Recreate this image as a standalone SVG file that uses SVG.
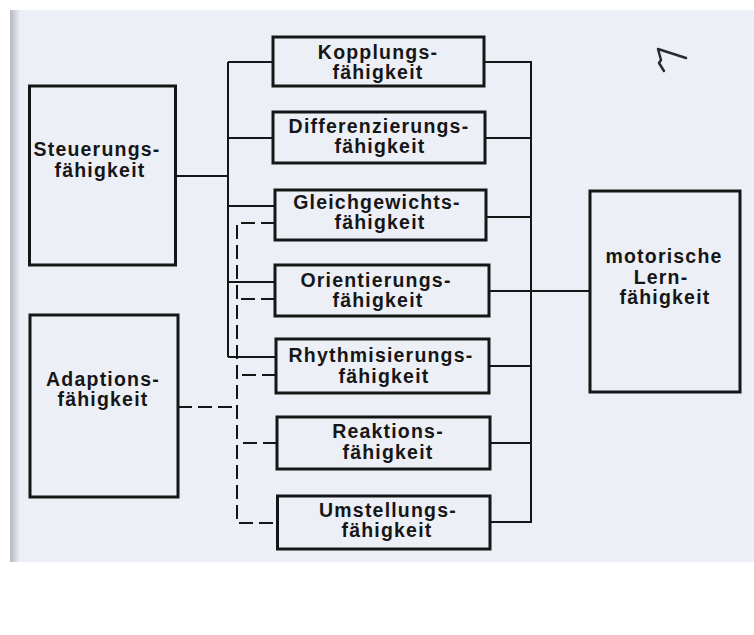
<svg xmlns="http://www.w3.org/2000/svg" width="754" height="635" viewBox="0 0 754 635">
  <defs>
    <linearGradient id="edge" x1="0" y1="0" x2="1" y2="0">
      <stop offset="0" stop-color="#b4b8c4"/>
      <stop offset="1" stop-color="#edeff6"/>
    </linearGradient>
    <style>
      .box { fill: none; stroke: #161616; stroke-width: 3; }
      .ln { fill: none; stroke: #161616; stroke-width: 2; }
      .dash { fill: none; stroke: #161616; stroke-width: 2; stroke-dasharray: 14 6; }
      text { font-family: "Liberation Sans", Arial, sans-serif; font-size: 19.5px; font-weight: bold; fill: #161616; text-anchor: middle; letter-spacing: 1.2px; }
    </style>
  </defs>

  <!-- paper -->
  <rect x="0" y="0" width="754" height="635" fill="#ffffff"/>
  <rect x="10" y="10" width="744" height="552" fill="#edeff6"/>
  <rect x="10" y="10" width="10" height="552" fill="url(#edge)"/>
  <path d="M686 58 L658 49 L661 60 L659 63 L664 71" fill="none" stroke="#2a2a30" stroke-width="2.5" stroke-linecap="round" stroke-linejoin="round"/>

  <!-- connectors -->
  <g id="connectors">
    <!-- Steuerungsfähigkeit feed (solid) -->
    <path class="ln" d="M175 176 H228"/>
    <path class="ln" d="M228 62 V357"/>
    <path class="ln" d="M228 62 H273 M228 138 H273 M228 206 H275 M228 282 H275 M228 357 H276"/>
    <!-- Adaptionsfähigkeit feed (dashed) -->
    <path class="dash" d="M178 407 H237"/>
    <path class="dash" d="M275 223 H237 V523 H277"/>
    <path class="dash" d="M275 299 H237 M276 375 H237 M277 443 H237"/>
    <!-- collector to motorische Lernfähigkeit -->
    <path class="ln" d="M484 62 H531 V522 H490"/>
    <path class="ln" d="M485 138 H531 M486 217 H531 M489 366 H531 M490 443 H531"/>
    <path class="ln" d="M489 291 H590"/>
  </g>

  <g id="steuerung">
    <rect class="box" x="29.5" y="86" width="146" height="179"/>
    <text x="97" y="156">Steuerungs-</text>
    <text x="100" y="177">fähigkeit</text>
  </g>

  <g id="adaption">
    <rect class="box" x="30" y="315" width="148" height="182"/>
    <text x="103" y="386">Adaptions-</text>
    <text x="103" y="406">fähigkeit</text>
  </g>

  <g id="kopplung">
    <rect class="box" x="273" y="37" width="211" height="49"/>
    <text x="378" y="59">Kopplungs-</text>
    <text x="378" y="79">fähigkeit</text>
  </g>

  <g id="differenzierung">
    <rect class="box" x="273" y="112" width="212" height="51"/>
    <text x="379" y="133">Differenzierungs-</text>
    <text x="380" y="153">fähigkeit</text>
  </g>

  <g id="gleichgewicht">
    <rect class="box" x="275" y="190" width="211" height="50"/>
    <text x="377" y="209">Gleichgewichts-</text>
    <text x="380" y="229">fähigkeit</text>
  </g>

  <g id="orientierung">
    <rect class="box" x="275" y="265" width="214" height="51"/>
    <text x="376" y="287">Orientierungs-</text>
    <text x="378" y="307">fähigkeit</text>
  </g>

  <g id="rhythmisierung">
    <rect class="box" x="276" y="339" width="213" height="54"/>
    <text x="381" y="362">Rhythmisierungs-</text>
    <text x="384" y="383">fähigkeit</text>
  </g>

  <g id="reaktion">
    <rect class="box" x="277" y="417" width="213" height="52"/>
    <text x="388" y="438">Reaktions-</text>
    <text x="388" y="459">fähigkeit</text>
  </g>

  <g id="umstellung">
    <rect class="box" x="277.5" y="496" width="212.5" height="53"/>
    <text x="388" y="517">Umstellungs-</text>
    <text x="387" y="537">fähigkeit</text>
  </g>

  <g id="lernfaehigkeit">
    <rect class="box" x="590" y="191" width="150" height="201"/>
    <text x="664" y="263">motorische</text>
    <text x="661" y="284">Lern-</text>
    <text x="665" y="304">fähigkeit</text>
  </g>
</svg>
